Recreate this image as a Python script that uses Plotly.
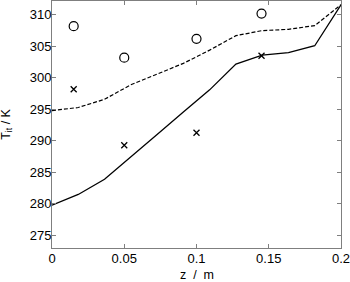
import plotly.graph_objects as go

z_grid = [0, 0.01818, 0.03636, 0.05455, 0.07273, 0.09091, 0.10909, 0.12727, 0.14545, 0.16364, 0.18182, 0.2]
T_solid = [279.8, 281.5, 283.9, 287.4, 291.0, 294.6, 298.1, 302.2, 303.6, 304.0, 305.1, 311.6]
T_dashed = [294.8, 295.3, 296.6, 298.9, 300.6, 302.3, 304.4, 306.7, 307.5, 307.7, 308.3, 311.6]

z_meas = [0.015, 0.05, 0.1, 0.145]
T_circle = [308.2, 303.2, 306.2, 310.2]
T_cross = [298.2, 289.3, 291.3, 303.5]

x_ticks = [0, 0.05, 0.1, 0.15, 0.2]
x_ticklabels = ["0", "0.05", "0.1", "0.15", "0.2"]
y_ticks = [275, 280, 285, 290, 295, 300, 305, 310]
x_title = "z  /  m"
y_title = "T<sub>it</sub> / K"

FONT = "Liberation Sans, Arial, sans-serif"

fig = go.Figure()
fig.add_trace(go.Scatter(x=z_grid, y=T_dashed, mode="lines",
                         line=dict(color="black", width=1.2, dash="4px,2px"), showlegend=False))
fig.add_trace(go.Scatter(x=z_grid, y=T_solid, mode="lines",
                         line=dict(color="black", width=1.3), showlegend=False))
fig.add_trace(go.Scatter(x=z_meas, y=T_circle, mode="markers",
                         marker=dict(symbol="circle-open", size=9, color="black", line=dict(width=1.2)),
                         showlegend=False))
fig.add_trace(go.Scatter(x=z_meas, y=T_cross, mode="markers",
                         marker=dict(symbol="x-thin-open", size=6, color="black", line=dict(width=1.3)),
                         showlegend=False))

axis_common = dict(showline=True, linecolor="#7f7f7f", linewidth=1, mirror="ticks",
                   ticks="inside", ticklen=4, tickcolor="#7f7f7f", showgrid=False, zeroline=False,
                   ticklabeloverflow="allow", automargin=False,
                   tickfont=dict(family=FONT, size=13, color="black"))

fig.update_layout(
    width=350, height=282,
    margin=dict(l=52, r=9, t=1, b=34),
    plot_bgcolor="white", paper_bgcolor="white",
    xaxis=dict(range=[0, 0.2], tickvals=x_ticks, ticktext=x_ticklabels, ticklabelstandoff=-2,
               **axis_common),
    yaxis=dict(range=[273.0, 312.2], tickvals=y_ticks, ticklabelstandoff=-3,
               **axis_common),
    annotations=[
        dict(text=x_title, xref="paper", yref="paper", x=0.5, y=-0.11,
             xanchor="center", yanchor="middle", showarrow=False, borderpad=0,
             font=dict(family=FONT, size=12.5, color="black")),
        dict(text=y_title, xref="paper", yref="paper", x=-0.158, y=0.5,
             xanchor="center", yanchor="middle", showarrow=False, textangle=-90,
             font=dict(family=FONT, size=12.5, color="black")),
    ],
)

fig.write_html("out.html", config={"displayModeBar": False},
               post_script="document.body.style.margin='0px';document.body.style.padding='0px';")
